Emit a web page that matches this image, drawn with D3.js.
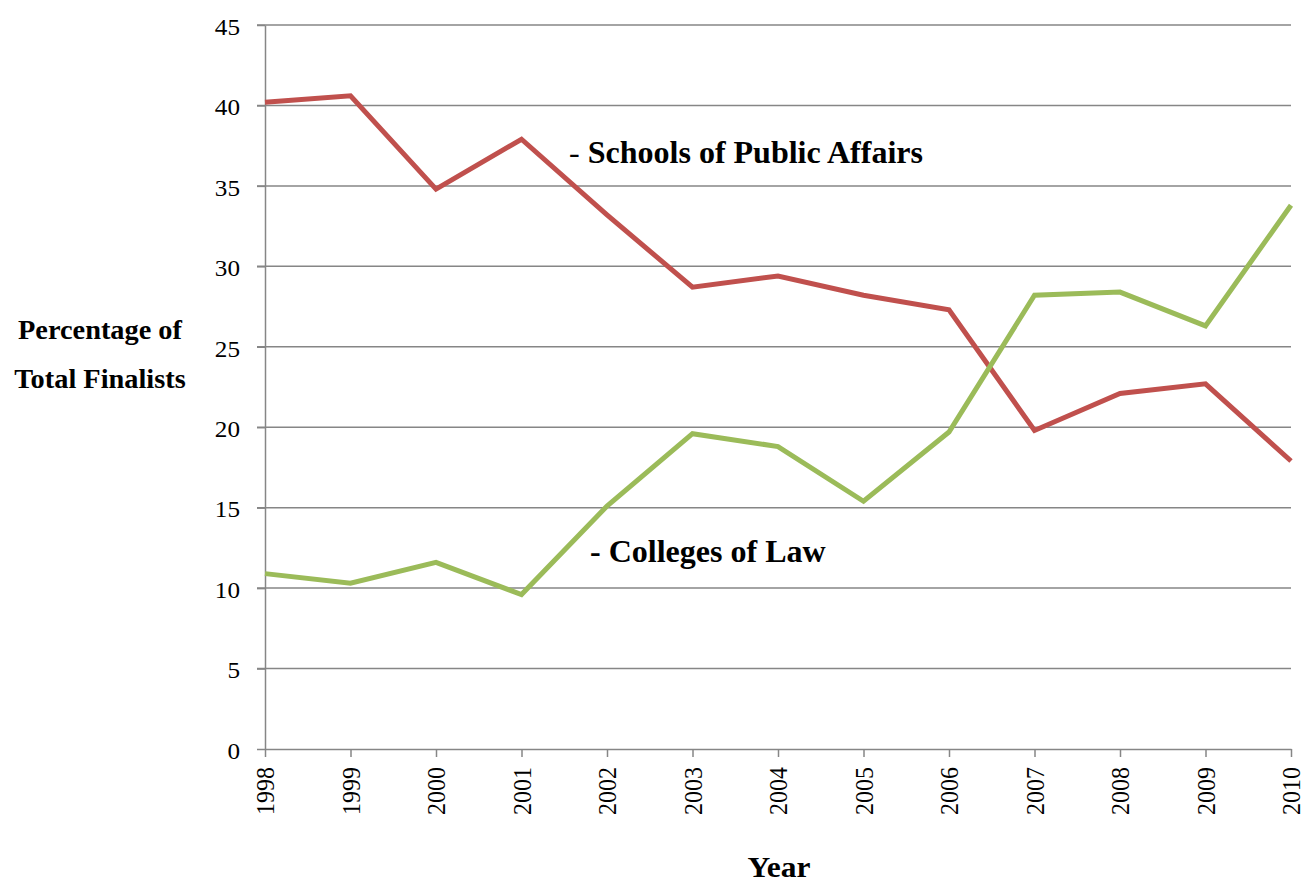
<!DOCTYPE html>
<html><head><meta charset="utf-8">
<script src="https://cdn.jsdelivr.net/npm/d3@7"></script>
<style>body{margin:0;background:#fff}svg{display:block}text{font-family:"Liberation Serif","Times New Roman",serif;fill:#000}</style>
</head><body><svg id="c" width="1303" height="882"></svg>
<script>
const years = [1998,1999,2000,2001,2002,2003,2004,2005,2006,2007,2008,2009,2010];
const publicAffairs = [40.2,40.6,34.8,37.9,33.2,28.7,29.4,28.2,27.3,19.8,22.1,22.7,17.9];
const law = [10.9,10.3,11.6,9.6,15.1,19.6,18.8,15.4,19.7,28.2,28.4,26.3,33.8];
const yTicks = [0,5,10,15,20,25,30,35,40,45];
const SX = 1.05;

const svg = d3.select("#c");
const L=265,R=1291,T=25,B=749;
const x = d3.scaleLinear().domain([1998,2010]).range([L,R]);
const y = d3.scaleLinear().domain([0,45]).range([B,T]);
const grey="#868686";
const serif='"Liberation Serif","Times New Roman",serif';

// gridlines
svg.append("g").selectAll("line").data(yTicks.filter(d=>d>0)).join("line")
  .attr("x1",L-8).attr("x2",R).attr("y1",d=>y(d)).attr("y2",d=>y(d))
  .attr("stroke",grey).attr("stroke-width",1.5);
// y axis
const ya = svg.append("g").attr("transform",`translate(${L},0)`)
  .call(d3.axisLeft(y).tickValues(yTicks).tickSize(8).tickSizeOuter(0).tickFormat(d3.format("d")))
  .attr("font-family",serif).attr("font-size",24);
ya.select(".domain").attr("stroke",grey).attr("stroke-width",1.5);
ya.selectAll(".tick line").attr("stroke",grey).attr("stroke-width",1.5);
ya.selectAll(".tick text").attr("x",0).attr("dy",null).attr("dominant-baseline","central")
  .attr("transform",`translate(-25,1) scale(${SX},1)`)
  .style("font-size","24px").style("font-family",serif);
// x axis
const xa = svg.append("g").attr("transform",`translate(0,${B})`)
  .call(d3.axisBottom(x).tickValues(years).tickSize(8).tickSizeOuter(0).tickFormat(d3.format("d")))
  .attr("font-family",serif).attr("font-size",24);
xa.select(".domain").attr("stroke",grey).attr("stroke-width",1.5);
xa.selectAll(".tick line").attr("stroke",grey).attr("stroke-width",1.5);
xa.selectAll(".tick text").attr("y",0).attr("dy",null).attr("text-anchor","end").attr("dominant-baseline","central")
  .attr("transform",`translate(0,18) scale(${SX},1) rotate(-90)`)
  .style("font-size","24px").style("font-family",serif);

// lines
const line = d3.line().x((d,i)=>x(years[i])).y(d=>y(d));
svg.append("path").datum(publicAffairs).attr("d",line).attr("fill","none")
  .attr("stroke","#C0504D").attr("stroke-width",5).attr("stroke-linejoin","miter");
svg.append("path").datum(law).attr("d",line).attr("fill","none")
  .attr("stroke","#9BBB59").attr("stroke-width",5).attr("stroke-linejoin","miter");

function stretchedText(px,py,anchor){
  return svg.append("text").attr("text-anchor",anchor)
    .attr("transform",`translate(${px},${py}) scale(${SX},1)`);
}
// labels
const t1 = stretchedText(569,163,"start").style("font-size","30.5px");
t1.append("tspan").text("- ");
t1.append("tspan").attr("font-weight","bold").text("Schools of Public Affairs");
stretchedText(590,562,"start").style("font-size","30.5px").attr("font-weight","bold").text("- Colleges of Law");

// axis titles
stretchedText(100,339,"middle").style("font-size","27px").attr("font-weight","bold").text("Percentage of");
stretchedText(100,388,"middle").style("font-size","27px").attr("font-weight","bold").text("Total Finalists");
stretchedText(779,877,"middle").style("font-size","30px").attr("font-weight","bold").text("Year");
</script></body></html>
